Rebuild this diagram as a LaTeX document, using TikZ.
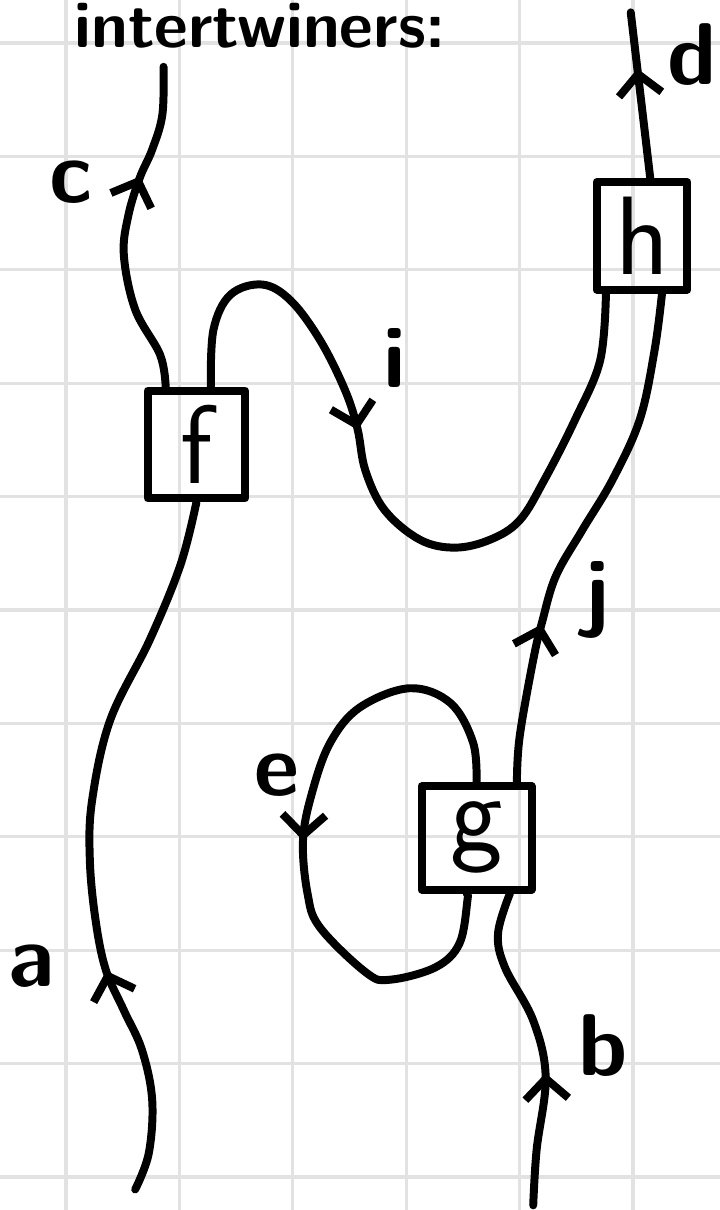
\documentclass[tikz,border=0pt]{standalone}
\usepackage{xcolor}
\usetikzlibrary{arrows.meta,decorations.markings}
\definecolor{gridgray}{RGB}{226,226,226}

\begin{document}
\begin{tikzpicture}[
  every node/.style={font=\sffamily\bfseries\fontsize{22}{24}\selectfont},
  strand/.style={line width=2pt, line cap=round, line join=round},
  mid arrow/.style={postaction={decorate}, decoration={markings,
    mark=at position #1 with {\arrow{Straight Barb[length=1.8mm,width=3.8mm]}}}},
  morph/.style={draw, line width=2pt, line join=round, rectangle, inner sep=0pt,
    minimum width=0.86cm, minimum height=0.95cm,
    font=\sffamily\fontsize{28}{30}\selectfont},
]

%% Page and squared paper
\useasboundingbox (-0.582,-0.291) rectangle (5.767,10.379);
\draw[gridgray, line width=0.8pt] (-0.582,-0.291) grid (5.767,10.379);

%% Heading at the top edge
\node[anchor=base west, font=\sffamily\bfseries\fontsize{16.5}{19}\selectfont]
  (title) at (-0.05,9.96) {intertwiners:};

%% ---- Boxes ----
\node[morph] (f) at (1.15,6.46) {f};
\node[morph, minimum width=0.8cm] (h) at (5.08,8.30) {h};
\node[morph, minimum width=0.97cm, minimum height=0.91cm] (g) at (3.62,2.99) {g};

% free ends
\coordinate (a0) at (0.61,-0.11);
\coordinate (b0) at (4.12,-0.25);
\coordinate (c0) at (0.86,9.79);
\coordinate (d0) at (4.98,10.27);

%% ---- Strands ----
% a : bottom -> f
\draw[strand, mid arrow=0.32] plot[smooth, tension=0.6] coordinates {(a0)
  (0.73,0.21) (0.76,0.68) (0.67,1.12) (0.51,1.47) (0.35,1.83) (0.26,2.27)
  (0.21,2.80) (0.23,3.32) (0.39,4.03) (0.74,4.74) (1.01,5.40) (f.south)};

% c : f -> top
\draw[strand, mid arrow=0.66] plot[smooth, tension=0.6] coordinates {(f.118)
  (0.83,7.25) (0.61,7.65) (0.51,8.13) (0.55,8.48) (0.65,8.81) (0.76,9.06)
  (0.85,9.37) (c0)};

% i : f -> h, over the top and through the valley
\draw[strand, mid arrow=0.39] plot[smooth, tension=0.6] coordinates {(f.76)
  (1.30,7.47) (1.45,7.78) (1.73,7.87) (1.98,7.73) (2.24,7.38) (2.46,6.94)
  (2.57,6.60) (2.64,6.23) (2.81,5.88) (3.12,5.62) (3.43,5.55) (3.74,5.62)
  (4.00,5.79) (4.22,6.15) (4.49,6.68) (4.71,7.20) (h.238)};

% d : h -> top
\draw[strand, mid arrow=0.66] (h.82) -- (d0);

% j : g -> h
\draw[strand, mid arrow=0.31] plot[smooth, tension=0.6] coordinates {(g.54)
  (4.00,3.88) (4.12,4.56) (4.20,4.90) (4.32,5.30) (4.55,5.70) (4.82,6.15)
  (5.06,6.68) (5.19,7.29) (h.289)};

% e : loop from the top of g back into its bottom
\draw[strand, mid arrow=0.515] plot[smooth, tension=0.6] coordinates {(g.90)
  (3.59,3.83) (3.39,4.18) (3.03,4.31) (2.59,4.14) (2.33,3.83) (2.17,3.39)
  (2.09,2.97) (2.13,2.50) (2.24,2.20) (2.65,1.80) (2.86,1.74) (3.26,1.85)
  (3.47,2.06) (3.54,2.44) (g.260)};

% b : bottom -> g
\draw[strand, mid arrow=0.41] plot[smooth, tension=0.6] coordinates {(b0)
  (4.15,0.24) (4.23,0.88) (4.12,1.38) (3.87,1.85) (3.81,2.15) (g.301)};

%% ---- Labels ----
\node (la) at (-0.30,1.86) {a};
\node (lb) at (4.74,1.16) {b};
\node (lc) at (0.04,8.77) {c};
\node (ld) at (5.52,9.90) {d};
\node (le) at (1.86,3.54) {e};
\node (li) at (2.90,7.22) {i};
\node (lj) at (4.68,5.09) {j};

\end{tikzpicture}
\end{document}
